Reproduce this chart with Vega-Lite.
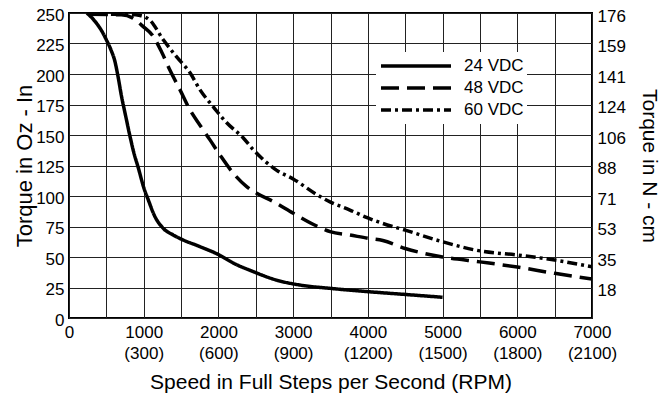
{
  "$schema": "https://vega.github.io/schema/vega-lite/v6.json",
  "width": 523,
  "height": 305,
  "autosize": {"type": "none"},
  "padding": {"left": 69, "top": 13, "right": 69, "bottom": 78},
  "background": "white",
  "config": {
    "font": "Liberation Sans",
    "view": {"stroke": "black", "strokeWidth": 2}
  },
  "data": {
    "values": [
      {"s": "24 VDC", "x": 240, "y": 250},
      {"s": "24 VDC", "x": 350, "y": 243},
      {"s": "24 VDC", "x": 450, "y": 234},
      {"s": "24 VDC", "x": 500, "y": 228},
      {"s": "24 VDC", "x": 560, "y": 220},
      {"s": "24 VDC", "x": 616, "y": 210},
      {"s": "24 VDC", "x": 656, "y": 198},
      {"s": "24 VDC", "x": 705, "y": 181},
      {"s": "24 VDC", "x": 750, "y": 168},
      {"s": "24 VDC", "x": 816, "y": 149},
      {"s": "24 VDC", "x": 870, "y": 135},
      {"s": "24 VDC", "x": 928, "y": 123},
      {"s": "24 VDC", "x": 1000, "y": 107},
      {"s": "24 VDC", "x": 1060, "y": 97},
      {"s": "24 VDC", "x": 1151, "y": 83},
      {"s": "24 VDC", "x": 1262, "y": 73.5},
      {"s": "24 VDC", "x": 1396, "y": 68},
      {"s": "24 VDC", "x": 1508, "y": 64.5},
      {"s": "24 VDC", "x": 1753, "y": 58.5},
      {"s": "24 VDC", "x": 2000, "y": 52},
      {"s": "24 VDC", "x": 2200, "y": 45},
      {"s": "24 VDC", "x": 2467, "y": 38},
      {"s": "24 VDC", "x": 2780, "y": 31},
      {"s": "24 VDC", "x": 3092, "y": 27},
      {"s": "24 VDC", "x": 3494, "y": 24.3},
      {"s": "24 VDC", "x": 4000, "y": 21.6},
      {"s": "24 VDC", "x": 4500, "y": 19.3},
      {"s": "24 VDC", "x": 5000, "y": 17},
      {"s": "48 VDC", "x": 280, "y": 249},
      {"s": "48 VDC", "x": 700, "y": 248.5},
      {"s": "48 VDC", "x": 850, "y": 246},
      {"s": "48 VDC", "x": 990, "y": 239},
      {"s": "48 VDC", "x": 1125, "y": 231},
      {"s": "48 VDC", "x": 1240, "y": 218},
      {"s": "48 VDC", "x": 1352, "y": 203},
      {"s": "48 VDC", "x": 1486, "y": 187},
      {"s": "48 VDC", "x": 1620, "y": 170.5},
      {"s": "48 VDC", "x": 1753, "y": 158},
      {"s": "48 VDC", "x": 1887, "y": 146},
      {"s": "48 VDC", "x": 2021, "y": 133.6},
      {"s": "48 VDC", "x": 2199, "y": 118.6},
      {"s": "48 VDC", "x": 2378, "y": 107.7},
      {"s": "48 VDC", "x": 2512, "y": 102.2},
      {"s": "48 VDC", "x": 2735, "y": 95.4},
      {"s": "48 VDC", "x": 3003, "y": 85.8},
      {"s": "48 VDC", "x": 3315, "y": 75.4},
      {"s": "48 VDC", "x": 3494, "y": 70.8},
      {"s": "48 VDC", "x": 3761, "y": 68},
      {"s": "48 VDC", "x": 4006, "y": 65.3},
      {"s": "48 VDC", "x": 4200, "y": 63.5},
      {"s": "48 VDC", "x": 4500, "y": 57},
      {"s": "48 VDC", "x": 4750, "y": 53},
      {"s": "48 VDC", "x": 5000, "y": 50},
      {"s": "48 VDC", "x": 5500, "y": 46},
      {"s": "48 VDC", "x": 6000, "y": 41.8},
      {"s": "48 VDC", "x": 6500, "y": 36.6},
      {"s": "48 VDC", "x": 7000, "y": 32},
      {"s": "60 VDC", "x": 280, "y": 249},
      {"s": "60 VDC", "x": 700, "y": 249},
      {"s": "60 VDC", "x": 950, "y": 248},
      {"s": "60 VDC", "x": 1084, "y": 244},
      {"s": "60 VDC", "x": 1262, "y": 228},
      {"s": "60 VDC", "x": 1441, "y": 214},
      {"s": "60 VDC", "x": 1620, "y": 201},
      {"s": "60 VDC", "x": 1754, "y": 187},
      {"s": "60 VDC", "x": 1932, "y": 173},
      {"s": "60 VDC", "x": 2111, "y": 160},
      {"s": "60 VDC", "x": 2333, "y": 147.5},
      {"s": "60 VDC", "x": 2466, "y": 138},
      {"s": "60 VDC", "x": 2780, "y": 121},
      {"s": "60 VDC", "x": 3000, "y": 114},
      {"s": "60 VDC", "x": 3320, "y": 101},
      {"s": "60 VDC", "x": 3500, "y": 95},
      {"s": "60 VDC", "x": 3760, "y": 88.5},
      {"s": "60 VDC", "x": 4000, "y": 82},
      {"s": "60 VDC", "x": 4200, "y": 77.5},
      {"s": "60 VDC", "x": 4500, "y": 72},
      {"s": "60 VDC", "x": 5000, "y": 62.5},
      {"s": "60 VDC", "x": 5500, "y": 55},
      {"s": "60 VDC", "x": 6000, "y": 51.6},
      {"s": "60 VDC", "x": 6500, "y": 47.5},
      {"s": "60 VDC", "x": 7000, "y": 42}
    ]
  },
  "encoding": {
    "x": {
      "field": "x",
      "type": "quantitative",
      "scale": {"domain": [0, 7000], "nice": false},
      "axis": {
        "values": [0, 500, 1000, 1500, 2000, 2500, 3000, 3500, 4000, 4500, 5000, 5500, 6000, 6500, 7000],
        "title": "Speed in Full Steps per Second (RPM)",
        "titleFontSize": 21,
        "titleFontWeight": "normal",
        "titleColor": "black",
        "titleBaseline": "alphabetic",
        "titleY": 70,
        "labelFontSize": 17,
        "labelColor": "black",
        "labelExpr": "datum.value == 0 ? '0' : (datum.value % 1000 == 0 ? [format(datum.value, 'd'), '(' + format(datum.value * 0.3, 'd') + ')'] : '')",
        "labelLineHeight": 21,
        "labelPadding": 6,
        "labelFlush": false,
        "labelOverlap": false,
        "labelBound": false,
        "ticks": false,
        "domain": false,
        "grid": true,
        "gridColor": "#222222",
        "gridWidth": 1,
        "gridOpacity": 1
      }
    },
    "y": {
      "field": "y",
      "type": "quantitative",
      "scale": {"domain": [0, 250], "nice": false}
    }
  },
  "layer": [
    {
      "mark": {"type": "line", "color": "black", "strokeWidth": 3.5, "interpolate": "monotone", "clip": true},
      "encoding": {
        "y": {
          "field": "y",
          "type": "quantitative",
          "axis": {
            "orient": "left",
            "values": [0, 25, 50, 75, 100, 125, 150, 175, 200, 225, 250],
            "title": "Torque in Oz - In",
            "titleFontSize": 22,
            "titleFontWeight": "normal",
            "titleColor": "black",
            "titleBaseline": "alphabetic",
            "titleX": -38,
            "labelFontSize": 17,
            "labelColor": "black",
            "labelPadding": 5,
            "labelOffset": 2,
            "labelBound": false,
            "labelOverlap": false,
            "labelFlush": false,
            "ticks": false,
            "domain": false,
            "grid": true,
            "gridColor": "#222222",
            "gridWidth": 1,
            "gridOpacity": 1
          }
        },
        "strokeDash": {
          "field": "s",
          "type": "nominal",
          "scale": {"domain": ["24 VDC", "48 VDC", "60 VDC"], "range": [[1, 0], [18, 8], [10, 4, 3, 4]]},
          "legend": {
            "title": null,
            "orient": "none",
            "legendX": 307,
            "legendY": 39,
            "symbolType": "stroke",
            "symbolSize": 4900,
            "symbolStrokeWidth": 3.5,
            "symbolStrokeColor": "black",
            "labelFontSize": 17,
            "labelColor": "black",
            "labelOffset": 11,
            "clipHeight": 22,
            "rowPadding": 0,
            "padding": 3,
            "fillColor": "white",
            "strokeColor": null
          }
        }
      }
    },
    {
      "mark": {"type": "point", "opacity": 0},
      "encoding": {
        "y": {
          "field": "y",
          "type": "quantitative",
          "axis": {
            "orient": "right",
            "values": [25, 50, 75, 100, 125, 150, 175, 200, 225, 250],
            "labelExpr": "datum.value == 250 ? '176' : format(datum.value * 0.7062, '.0f')",
            "title": "Torque in N - cm",
            "titleFontSize": 21,
            "titleFontWeight": "normal",
            "titleColor": "black",
            "titleBaseline": "alphabetic",
            "titleX": 50,
            "labelFontSize": 17,
            "labelColor": "black",
            "labelPadding": 5,
            "labelOffset": 3,
            "labelBound": false,
            "labelOverlap": false,
            "labelFlush": false,
            "ticks": false,
            "domain": false,
            "grid": false
          }
        }
      }
    }
  ],
  "resolve": {"axis": {"y": "independent"}}
}
